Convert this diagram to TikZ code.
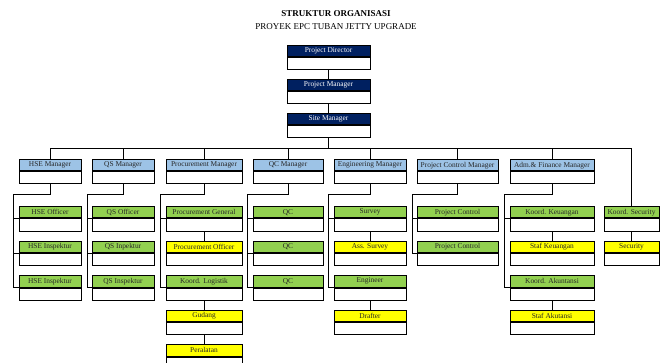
\documentclass[tikz,border=0pt]{standalone}
\usepackage{fontspec}
\setmainfont{Liberation Serif}
\usetikzlibrary{calc}
\definecolor{navy}{HTML}{002060}
\definecolor{lblue}{HTML}{9DC3E6}
\definecolor{lgreen}{HTML}{92D050}
\definecolor{yel}{HTML}{FFFF00}
\tikzset{
	hdr/.style={draw, line width=1pt, anchor=north, inner sep=0pt, minimum height=11.5pt, font=\fontsize{7.4}{8}\selectfont},
	bdy/.style={draw, line width=1pt, anchor=north, fill=white, inner sep=0pt, minimum height=12pt},
	dirbox/.style={fill=navy, text=white},
	mgrbox/.style={fill=lblue, text=black!85},
	korbox/.style={fill=lgreen, text=black!85},
	stfbox/.style={fill=yel, text=black!85},
	conn/.style={line width=0.9pt},
}
% name, centre x, top y, width, look, text
\newcommand\orgbox[6]{%
	\node[hdr, #5, minimum width=#4pt] (#1) at (#2,#3) {#6};
	\node[bdy, minimum width=#4pt] (#1b) at (#1.south) {};
}

\begin{document}
\begin{tikzpicture}[x=1pt, y=-1pt]
		%%%%% START %%%%%
		\clip (0,0) rectangle (663,363);
		
		\node[font=\bfseries\fontsize{9}{10}\selectfont] (ttl) at (336,14) {STRUKTUR ORGANISASI};
		\node[font=\fontsize{9}{10}\selectfont] (sub) at (336,27) {PROYEK EPC TUBAN JETTY UPGRADE};
		
		\orgbox{dir}{328.5}{45}{83}{dirbox}{Project Director}
		\orgbox{pm}{328.5}{79}{83}{dirbox}{Project Manager}
		\orgbox{sm}{328.5}{113}{83}{dirbox}{Site Manager}
		\draw[conn] (dirb.south) -- (pm.north);
		\draw[conn] (pmb.south) -- (sm.north);
		
		\orgbox{hse}{50}{159}{62}{mgrbox}{HSE Manager}
		\orgbox{qs}{123}{159}{62}{mgrbox}{QS Manager}
		\orgbox{proc}{204}{159}{76}{mgrbox}{Procurement Manager}
		\orgbox{qc}{288}{159}{70}{mgrbox}{QC Manager}
		\orgbox{eng}{370}{159}{72}{mgrbox}{Engineering Manager}
		\orgbox{pc}{457.5}{159}{81}{mgrbox}{Project Control Manager}
		\orgbox{adm}{552}{159}{84}{mgrbox}{Adm.\& Finance Manager}
		
		\orgbox{hse1}{50}{206}{62}{korbox}{HSE Officer}
		\orgbox{hse2}{50}{240.5}{62}{korbox}{HSE Inspektur}
		\orgbox{hse3}{50}{275}{62}{korbox}{HSE Inspektur}
		
		\orgbox{qs1}{123}{206}{62}{korbox}{QS Officer}
		\orgbox{qs2}{123}{240.5}{62}{korbox}{QS Inpektur}
		\orgbox{qs3}{123}{275}{62}{korbox}{QS Inspektur}
		
		\orgbox{proc1}{204}{206}{76}{korbox}{Procurement General}
		\orgbox{proc2}{204}{240.5}{76}{stfbox}{Procurement Officer}
		\orgbox{proc3}{204}{275}{76}{korbox}{Koord. Logistik}
		\orgbox{proc4}{204}{309.5}{76}{stfbox}{Gudang}
		\orgbox{proc5}{204}{344}{76}{stfbox}{Peralatan}
		
		\orgbox{qc1}{288}{206}{70}{korbox}{QC}
		\orgbox{qc2}{288}{240.5}{70}{korbox}{QC}
		\orgbox{qc3}{288}{275}{70}{korbox}{QC}
		
		\orgbox{eng1}{370}{206}{72}{korbox}{Survey}
		\orgbox{eng2}{370}{240.5}{72}{stfbox}{Ass. Survey}
		\orgbox{eng3}{370}{275}{72}{korbox}{Engineer}
		\orgbox{eng4}{370}{309.5}{72}{stfbox}{Drafter}
		
		\orgbox{pc1}{457.5}{206}{81}{korbox}{Project Control}
		\orgbox{pc2}{457.5}{240.5}{81}{korbox}{Project Control}
		
		\orgbox{adm1}{552}{206}{84}{korbox}{Koord. Keuangan}
		\orgbox{adm2}{552}{240.5}{84}{stfbox}{Staf Keuangan}
		\orgbox{adm3}{552}{275}{84}{korbox}{Koord. Akuntansi}
		\orgbox{adm4}{552}{309.5}{84}{stfbox}{Staf Akutansi}
		
		\orgbox{sec1}{631.5}{206}{55}{korbox}{Koord. Security}
		\orgbox{sec2}{631.5}{240.5}{55}{stfbox}{Security}
		
		% main bus
		\coordinate (bus) at (0,148);
		\draw[conn] (smb.south) -- (smb.south |- bus);
		\draw[conn] (hse.north) |- (bus -| sec1.north) -- (sec1.north);
		\draw[conn] (qs.north) -- (qs.north |- bus);
		\draw[conn] (proc.north) -- (proc.north |- bus);
		\draw[conn] (qc.north) -- (qc.north |- bus);
		\draw[conn] (eng.north) -- (eng.north |- bus);
		\draw[conn] (pc.north) -- (pc.north |- bus);
		\draw[conn] (adm.north) -- (adm.north |- bus);
		
		% column buses
		\coordinate (hsex) at (13,194);
		\draw[conn] (hseb.south) |- (hsex) |- (hse3.south west);
		\draw[conn] (hsex |- hse1.south west) -- (hse1.south west);
		\draw[conn] (hsex |- hse2.south west) -- (hse2.south west);
		
		\coordinate (qsx) at (87,194);
		\draw[conn] (qsb.south) |- (qsx) |- (qs3.south west);
		\draw[conn] (qsx |- qs1.south west) -- (qs1.south west);
		\draw[conn] (qsx |- qs2.south west) -- (qs2.south west);
		
		\coordinate (procx) at (160,194);
		\draw[conn] (procb.south) |- (procx) |- (proc3.south west);
		\draw[conn] (procx |- proc1.south west) -- (proc1.south west);
		\draw[conn] (proc1b.south) -- (proc2.north);
		\draw[conn] (proc3b.south) -- (proc4.north);
		\draw[conn] (proc4b.south) -- (proc5.north);
		
		\coordinate (qcx) at (247,194);
		\draw[conn] (qcb.south) |- (qcx) |- (qc3.south west);
		\draw[conn] (qcx |- qc1.south west) -- (qc1.south west);
		\draw[conn] (qcx |- qc2.south west) -- (qc2.south west);
		
		\coordinate (engx) at (328.5,194);
		\draw[conn] (engb.south) |- (engx) |- (eng3.south west);
		\draw[conn] (engx |- eng1.south west) -- (eng1.south west);
		\draw[conn] (eng1b.south) -- (eng2.north);
		\draw[conn] (eng3b.south) -- (eng4.north);
		
		\coordinate (pcx) at (412,194);
		\draw[conn] (pcb.south) |- (pcx) |- (pc2.south west);
		\draw[conn] (pcx |- pc1.south west) -- (pc1.south west);
		
		\coordinate (admx) at (504,194);
		\draw[conn] (admb.south) |- (admx) |- (adm3.south west);
		\draw[conn] (admx |- adm1.south west) -- (adm1.south west);
		\draw[conn] (adm1b.south) -- (adm2.north);
		\draw[conn] (adm3b.south) -- (adm4.north);
		
		\draw[conn] (sec1b.south) -- (sec2.north);
		
		%%%%% END %%%%%
	\end{tikzpicture}
\end{document}
